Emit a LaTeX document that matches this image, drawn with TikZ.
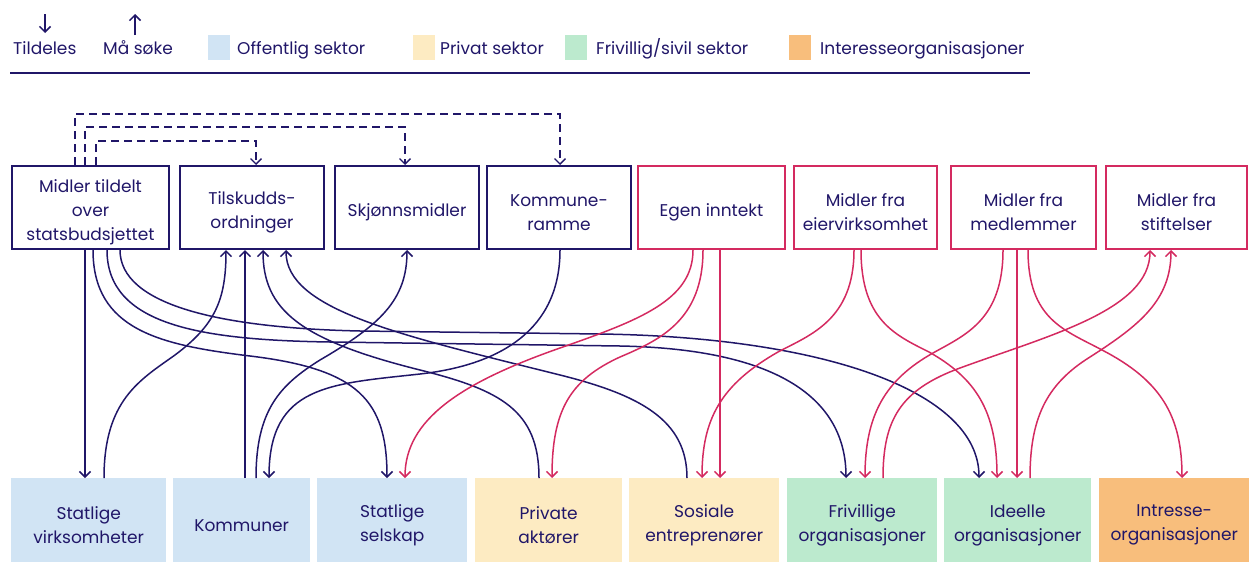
\documentclass[tikz,border=0pt]{standalone}
\usepackage{fontspec}
\setmainfont{Poppins}
\usetikzlibrary{arrows.meta,calc}
\definecolor{ink}{RGB}{32,22,104}
\definecolor{rose}{RGB}{212,42,96}
\definecolor{pubfill}{RGB}{209,228,244}
\definecolor{privfill}{RGB}{253,235,194}
\definecolor{volfill}{RGB}{188,234,206}
\definecolor{intfill}{RGB}{248,190,124}

\begin{document}
\begin{tikzpicture}[x=1pt,y=-1pt,
  every node/.style={text=ink, font=\fontsize{17}{24}\selectfont},
  boxlabel/.style={align=center, inner sep=0pt, yshift=-5pt},
  caption/.style={label={[boxlabel]center:{#1}}},
  source/.style={draw=ink, line width=2pt, minimum height=83pt, inner sep=0pt},
  fundbox/.style={source, draw=rose},
  target/.style={anchor=north west, minimum height=84pt, inner sep=0pt},
  swatch/.style={minimum width=22pt, minimum height=25pt, inner sep=0pt, anchor=north west},
  keylabel/.style={anchor=base west, inner sep=0pt},
  tip/.style={-{Straight Barb[length=5.5pt,width=11pt]}},
  gives/.style={draw=ink, line width=1.5pt, tip},
  pgives/.style={draw=rose, line width=1.5pt, tip},
  route/.style={draw=ink, line width=1.3pt, dash pattern=on 8pt off 5pt, tip},
]
\useasboundingbox (0,0) rectangle (1249,562);

% ---------- legend ----------
\node[keylabel] (kTil) at (13,54) {Tildeles};
\node[keylabel] (kSok) at (103,54) {Må søke};
\draw[gives] (45,14) -- (45,33);
\draw[gives] (135,35) -- (135,14);
\node[swatch, fill=pubfill] (sw1) at (208,35) {};
\node[keylabel] (l1) at (237,54) {Offentlig sektor};
\node[swatch, fill=privfill] (sw2) at (413,35) {};
\node[keylabel] (l2) at (440,54) {Privat sektor};
\node[swatch, fill=volfill] (sw3) at (565,35) {};
\node[keylabel] (l3) at (596,54) {Frivillig/sivil sektor};
\node[swatch, fill=intfill] (sw4) at (789,35) {};
\node[keylabel] (l4) at (820,54) {Interesseorganisasjoner};
\draw[ink, line width=1.3pt] (10,73) -- (1030,73);

% ---------- funding sources ----------
\node[source, minimum width=157pt, caption={Midler tildelt\\over\\statsbudsjettet}] (t1) at (90.5,207.5) {};
\node[source, minimum width=144pt, caption={Tilskudds-\\ordninger}] (t2) at (252,207.5) {};
\node[source, minimum width=144pt, caption={Skjønnsmidler}] (t3) at (407,207.5) {};
\node[source, minimum width=144pt, caption={Kommune-\\ramme}] (t4) at (559,207.5) {};
\node[fundbox, minimum width=147pt, caption={Egen inntekt}] (t5) at (711.5,207.5) {};
\node[fundbox, minimum width=143pt, caption={Midler fra\\eiervirksomhet}] (t6) at (865.5,207.5) {};
\node[fundbox, minimum width=145pt, caption={Midler fra\\medlemmer}] (t7) at (1023.5,207.5) {};
\node[fundbox, minimum width=141pt, caption={Midler fra\\stiftelser}] (t8) at (1176.5,207.5) {};

% ---------- recipients ----------
\node[target, fill=pubfill, minimum width=155pt, caption={Statlige\\virksomheter}] (b1) at (11,478) {};
\node[target, fill=pubfill, minimum width=137pt, caption={Kommuner}] (b2) at (173,478) {};
\node[target, fill=pubfill, minimum width=150pt, caption={Statlige\\selskap}] (b3) at (317,478) {};
\node[target, fill=privfill, minimum width=147pt, caption={Private\\aktører}] (b4) at (475,478) {};
\node[target, fill=privfill, minimum width=150pt, caption={Sosiale\\entreprenører}] (b5) at (629,478) {};
\node[target, fill=volfill, minimum width=150pt, caption={Frivillige\\organisasjoner}] (b6) at (787,478) {};
\node[target, fill=volfill, minimum width=147pt, caption={Ideelle\\organisasjoner}] (b7) at (944,478) {};
\node[target, fill=intfill, minimum width=150pt, caption={Intresse-\\organisasjoner}] (b8) at (1099,478) {};

% ---------- state budget redistributed (dashed) ----------
\draw[route] ($(t1.north west)+(64,0)$) -- ++(0,-51) -| ($(t4.north west)+(74,0)$);
\draw[route] ($(t1.north west)+(74,0)$) -- ++(0,-38) -| ($(t3.north west)+(71,0)$);
\draw[route] ($(t1.north west)+(85,0)$) -- ++(0,-24) -| ($(t2.north west)+(77,0)$);

% ---------- public flows ----------
\draw[gives] ($(t1.south west)+(74,0)$) -- ($(b1.north west)+(74,0)$);
\draw[gives] ($(t1.south west)+(82,0)$) .. controls (93,330) and (160,345) .. (250,356)
  .. controls (358,369) and (387,400) .. ($(b3.north west)+(70,0)$);
\draw[gives] ($(t1.south west)+(96,0)$) .. controls (107,325) and (200,340) .. (330,342)
  -- (620,346) .. controls (780,349) and (846,400) .. ($(b6.north west)+(59,0)$);
\draw[gives] ($(t1.south west)+(109,0)$) .. controls (120,305) and (220,328) .. (360,331)
  -- (600,334) .. controls (820,337) and (979,390) .. ($(b7.north west)+(35,0)$);

\draw[gives] ($(b1.north west)+(93,0)$) .. controls (104,400) and (140,380) .. (175,355)
  .. controls (215,325) and (226,300) .. ($(t2.south west)+(47,0)$);
\draw[gives] ($(b2.north west)+(72,0)$) -- ($(t2.south west)+(66,0)$);
\draw[gives] ($(b4.north west)+(64,0)$) .. controls (539,410) and (500,390) .. (420,370)
  .. controls (300,340) and (263,310) .. ($(t2.south west)+(84,0)$);
\draw[gives] ($(b5.north west)+(58,0)$) .. controls (687,420) and (640,395) .. (560,375)
  .. controls (400,335) and (286,310) .. ($(t2.south west)+(107,0)$);
\draw[gives] ($(b2.north west)+(83,0)$) .. controls (256,410) and (280,385) .. (320,360)
  .. controls (380,325) and (407,300) .. ($(t3.south west)+(73,0)$);
\draw[gives] ($(t4.south west)+(74,0)$) .. controls (560,330) and (500,365) .. (420,374)
  .. controls (330,384) and (269,385) .. ($(b2.north west)+(96,0)$);

% ---------- private and civil flows ----------
\draw[pgives] ($(t5.south west)+(56,0)$) .. controls (693,300) and (640,320) .. (560,348)
  .. controls (460,383) and (405,420) .. ($(b3.north west)+(88,0)$);
\draw[pgives] ($(t5.south west)+(66,0)$) .. controls (703,320) and (660,340) .. (620,357)
  .. controls (570,380) and (552,410) .. ($(b4.north west)+(77,0)$);
\draw[pgives] ($(t5.south west)+(83,0)$) -- ($(b5.north west)+(91,0)$);
\draw[pgives] ($(t6.south west)+(61,0)$) .. controls (854,320) and (810,335) .. (778,352)
  .. controls (720,385) and (702,420) .. ($(b5.north west)+(73,0)$);
\draw[pgives] ($(t6.south west)+(68,0)$) .. controls (861,320) and (895,335) .. (929,352)
  .. controls (975,378) and (997,410) .. ($(b7.north west)+(53,0)$);
\draw[pgives] ($(t7.south west)+(53,0)$) .. controls (1003,320) and (965,335) .. (933,353)
  .. controls (885,380) and (865,415) .. ($(b6.north west)+(78,0)$);
\draw[pgives] ($(t7.south west)+(67,0)$) -- ($(b7.north west)+(73,0)$);
\draw[pgives] ($(t7.south west)+(78,0)$) .. controls (1028,320) and (1065,330) .. (1102,350)
  .. controls (1160,380) and (1182,415) .. ($(b8.north west)+(83,0)$);
\draw[pgives] ($(b6.north west)+(96,0)$) .. controls (883,420) and (900,390) .. (960,368)
  .. controls (1050,335) and (1150,310) .. ($(t8.south west)+(45,0)$);
\draw[pgives] ($(b7.north west)+(86,0)$) .. controls (1030,420) and (1045,385) .. (1090,357)
  .. controls (1140,325) and (1171,300) .. ($(t8.south west)+(66,0)$);
\end{tikzpicture}
\end{document}
